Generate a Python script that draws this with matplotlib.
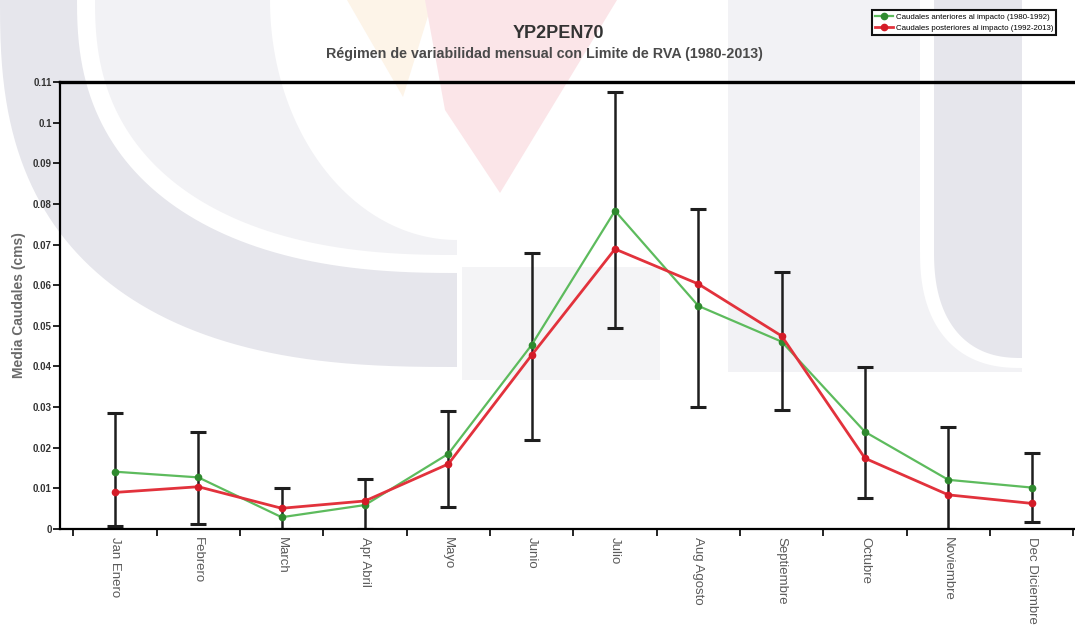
import numpy as np
import matplotlib
matplotlib.use("Agg")
import matplotlib.pyplot as plt
from matplotlib.patches import Polygon
from matplotlib.ticker import FixedLocator, FuncFormatter

# Datos mensuales (cms)
meses = ["Jan Enero", "Febrero", "March", "Apr Abril", "Mayo", "Junio",
         "Julio", "Aug Agosto", "Septiembre", "Octubre", "Noviembre",
         "Dec Diciembre"]
antes = [0.0141, 0.0127, 0.0029, 0.0059, 0.0185, 0.0453,
         0.0783, 0.0549, 0.0461, 0.0239, 0.0121, 0.0102]
despues = [0.0090, 0.0104, 0.0051, 0.0069, 0.0160, 0.0428,
           0.0689, 0.0603, 0.0475, 0.0174, 0.0084, 0.0063]
rva_alto = [0.0286, 0.0239, 0.0100, 0.0122, 0.0291, 0.0678,
            0.1076, 0.0787, 0.0632, 0.0399, 0.0252, 0.0186]
rva_bajo = [0.0007, 0.0012, 0.0000, 0.0000, 0.0053, 0.0219,
            0.0494, 0.0300, 0.0293, 0.0076, 0.0000, 0.0018]

etiqueta_antes = "Caudales anteriores al impacto (1980-1992)"
etiqueta_despues = "Caudales posteriores al impacto (1992-2013)"

NARROW = ["Liberation Sans Narrow", "Liberation Sans", "DejaVu Sans"]
ARIAL = ["Liberation Sans", "DejaVu Sans"]

fig = plt.figure(figsize=(10.75, 6.3), dpi=100)

# --- marca de agua (logo) en coordenadas de pixel ---
bg = fig.add_axes([0, 0, 1, 1], zorder=-5)
bg.set_xlim(0, 1075)
bg.set_ylim(630, 0)
bg.axis("off")


def cuarto_elipse(cx, cy, rx, ry, t0, t1, n=60, p=2.4):
    t = np.linspace(t0, t1, n)
    c, s = np.cos(t), np.sin(t)
    x = cx + rx * np.sign(c) * np.abs(c) ** (2 / p)
    y = cy + ry * np.sign(s) * np.abs(s) ** (2 / p)
    return np.column_stack([x, y])


gris_osc = "#e6e6ec"
gris_cla = "#f2f2f5"

# anillo izquierdo
ext = cuarto_elipse(457, 0, 457, 367, np.pi, np.pi / 2, p=2.6)
inn = cuarto_elipse(457, 0, 380, 273, np.pi / 2, np.pi)
bg.add_patch(Polygon(np.vstack([ext, inn]), closed=True, fc=gris_osc, ec="none"))
# media luna clara dentro del anillo
a = cuarto_elipse(457, 0, 362, 255, np.pi, np.pi / 2)
b = cuarto_elipse(457, 0, 187, 240, np.pi / 2, np.pi, p=2.0)
bg.add_patch(Polygon(np.vstack([a, b]), closed=True, fc=gris_cla, ec="none"))
# bloque claro central
bg.add_patch(Polygon([[462, 267], [660, 267], [660, 380], [462, 380]],
                     closed=True, fc="#f4f4f6", ec="none"))
# cuñas de color
bg.add_patch(Polygon([[347, 0], [433, 0], [403, 97]], closed=True,
                     fc="#fdf4e8", ec="none"))
bg.add_patch(Polygon([[425, 0], [617, 0], [500, 193], [445, 110]], closed=True,
                     fc="#fbe5e8", ec="none"))
# banda derecha
bg.add_patch(Polygon([[728, 0], [1022, 0], [1022, 372], [728, 372]],
                     closed=True, fc=gris_cla, ec="none"))
hueco = cuarto_elipse(1022, 250, 102, 118, np.pi, np.pi / 2)
bg.add_patch(Polygon(np.vstack([[[920, 0], [1022, 0]], hueco[::-1]]), closed=True,
                     fc="white", ec="none"))
osc = cuarto_elipse(1022, 250, 88, 108, np.pi, np.pi / 2)
bg.add_patch(Polygon(np.vstack([[[934, 0], [1022, 0]], osc[::-1]]), closed=True,
                     fc=gris_osc, ec="none"))

# --- gráfica principal ---
ax = fig.add_axes([60 / 1075, 1 - 529 / 630, 1015 / 1075, 447 / 630])
ax.set_facecolor("none")
x = np.arange(len(meses))

alto = np.array(rva_alto)
bajo = np.array(rva_bajo)
ax.errorbar(x, (alto + bajo) / 2, yerr=(alto - bajo) / 2, fmt="none",
            ecolor="#1e1e1e", elinewidth=1.8, capsize=5.5, capthick=2.2, zorder=2)

ax.plot(x, antes, color="#5dbb5d", lw=1.6, marker="o", ms=4.5,
        mfc="#2f8a2f", mec="#2f8a2f", zorder=3, label=etiqueta_antes)
ax.plot(x, despues, color="#e2323c", lw=2.0, marker="o", ms=4.5,
        mfc="#d41c28", mec="#d41c28", zorder=4, label=etiqueta_despues)

ax.set_xlim(-0.66, 11.52)
ax.set_ylim(0, 0.11)

ax.set_yticks(np.arange(0, 0.111, 0.01))
ax.yaxis.set_major_formatter(FuncFormatter(lambda v, _: f"{v:.2f}".rstrip("0").rstrip(".")))
ax.tick_params(axis="y", direction="out", length=5, width=1.2, pad=1,
               labelsize=7, labelcolor="#333333")
for t in ax.get_yticklabels():
    t.set_family(NARROW)
    t.set_fontweight("bold")

ax.set_xticks(x)
ax.set_xticklabels(meses, rotation=270, fontsize=9.5, color="#5a5a5a", family=ARIAL)
ax.xaxis.set_minor_locator(FixedLocator(np.arange(-0.5, 12, 1.0)))
ax.tick_params(axis="x", which="major", length=0, pad=6)
ax.tick_params(axis="x", which="minor", direction="out", length=5, width=1.2)

for lado in ("left", "bottom"):
    ax.spines[lado].set_linewidth(1.6)
ax.spines["top"].set_linewidth(2.4)
ax.spines["right"].set_visible(False)

ax.set_ylabel("Media Caudales (cms)", fontsize=10, fontweight="bold",
              color="#6a6a6a", family=ARIAL, labelpad=5)

fig.text(558 / 1075, 1 - 33 / 630, "YP2PEN70", ha="center", va="center",
         fontsize=13, fontweight="bold", color="#333333", family=NARROW)
fig.text(544 / 1075, 1 - 54 / 630,
         "Régimen de variabilidad mensual con Limite de RVA (1980-2013)",
         ha="center", va="center", fontsize=10.3, fontweight="bold",
         color="#4a4a4a", family=NARROW)

leg = ax.legend(loc="upper left", bbox_to_anchor=(872 / 1075, 1 - 10 / 630),
                bbox_transform=fig.transFigure, prop={"family": NARROW, "size": 5.7},
                frameon=True, fancybox=False, framealpha=1, edgecolor="#111111",
                borderpad=0.4, labelspacing=0.5, handlelength=2.2, handletextpad=0.4,
                borderaxespad=0)
leg.get_frame().set_linewidth(1.5)

fig.savefig("out.png", dpi=100)
